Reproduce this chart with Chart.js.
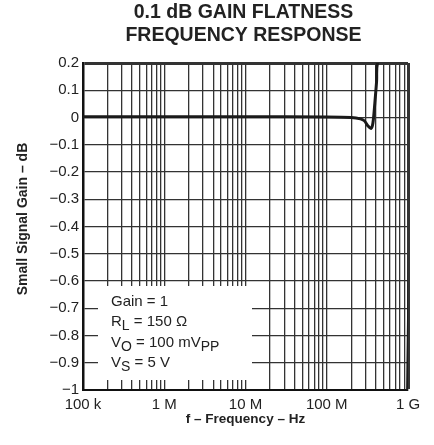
<!DOCTYPE html>
<html>
<head>
<meta charset="utf-8">
<script src="https://cdn.jsdelivr.net/npm/chart.js@4"></script>
<style>
  html, body { margin: 0; padding: 0; background: #fff; }
  #wrap { width: 434px; height: 445px; }
</style>
</head>
<body>
<div id="wrap"><canvas id="gainChart" width="434" height="445"></canvas></div>
<script>
// 0.1 dB gain flatness data
const freqHz = [1e5, 1e6, 1e7, 1e8, 2e8, 2.6e8, 2.9e8, 3.2e8, 3.5e8, 3.7e8, 3.9e8, 4.1e8, 4.3e8, 9.7e8, 9.8e8];
const gainDb = [0.003, 0.003, 0.003, 0.002, 0.0, -0.005, -0.012, -0.03, -0.04, -0.02, 0.05, 0.13, 0.21, 0.4, -1.2];

const xTicks = [];
for (let d = 1e5; d < 1e9; d *= 10) {
    for (let m = 1; m < 10; m++) xTicks.push(m * d);
}
xTicks.push(1e9);
const xLabels = { 1e5: '100 k', 1e6: '1 M', 1e7: '10 M', 1e8: '100 M', 1e9: '1 G' };
const yTicks = [-1, -0.9, -0.8, -0.7, -0.6, -0.5, -0.4, -0.3, -0.2, -0.1, 0, 0.1, 0.2];

const legendLines = [
    [['Gain = 1', 0]],
    [['R', 0], ['L', 1], [' = 150 Ω', 0]],
    [['V', 0], ['O', 1], [' = 100 mV', 0], ['PP', 1]],
    [['V', 0], ['S', 1], [' = 5 V', 0]]
];

const FONT = '"Liberation Sans", Arial, sans-serif';

// titles, axis titles and the condition box
const textPlugin = {
    id: 'texts',
    beforeDatasetsDraw(chart) {
        const ctx = chart.ctx;
        ctx.save();
        // white box over the grid
        ctx.fillStyle = '#fff';
        ctx.fillRect(98, 286, 154, 94);
        ctx.fillStyle = '#222';
        ctx.textBaseline = 'alphabetic';
        ctx.textAlign = 'left';
        let y = 306;
        legendLines.forEach(line => {
            let x = 111;
            line.forEach(([t, sub]) => {
                ctx.font = (sub ? '14px ' : '15px ') + FONT;
                ctx.fillText(t, x, y + (sub ? 4 : 0));
                x += ctx.measureText(t).width;
            });
            y += 20.3;
        });
        ctx.restore();
    },
    afterDraw(chart) {
        const ctx = chart.ctx;
        const a = chart.chartArea;
        const cx = (a.left + a.right) / 2;
        ctx.save();
        ctx.fillStyle = '#222';
        ctx.textAlign = 'center';
        ctx.textBaseline = 'middle';
        ctx.font = 'bold 19.5px ' + FONT;
        ctx.fillText('0.1 dB GAIN FLATNESS', cx - 2, 13);
        ctx.fillText('FREQUENCY RESPONSE', cx - 2, 36);
        ctx.font = 'bold 13.5px ' + FONT;
        ctx.fillText('f – Frequency – Hz', cx, 419);
        ctx.translate(23, 219);
        ctx.rotate(-Math.PI / 2);
        ctx.font = 'bold 14px ' + FONT;
        ctx.fillText('Small Signal Gain – dB', 0, 0);
        ctx.restore();
    }
};

const config = {
    type: 'line',
    data: {
        datasets: [{
            data: freqHz.map((f, i) => ({ x: f, y: gainDb[i] })),
            borderColor: '#1a1a1a',
            borderWidth: 3,
            pointRadius: 0,
            tension: 0.3,
            fill: false
        }]
    },
    options: {
        responsive: false,
        animation: false,
        layout: { padding: { top: 63, right: 26, left: 0, bottom: 0 } },
        plugins: { legend: { display: false }, tooltip: { enabled: false } },
        scales: {
            x: {
                type: 'logarithmic',
                min: 1e5,
                max: 1e9,
                afterBuildTicks: s => { s.ticks = xTicks.map(v => ({ value: v })); },
                afterFit: s => { s.height = 55; },
                ticks: {
                    autoSkip: false,
                    maxRotation: 0,
                    padding: 6,
                    color: '#222',
                    font: { family: FONT, size: 15 },
                    callback: v => xLabels[v] || ''
                },
                grid: {
                    drawTicks: false,
                    color: '#333',
                    lineWidth: c => (c.tick && c.tick.value === 1e9 ? 3 : 1.3)
                },
                border: { color: '#111', width: 2 }
            },
            y: {
                min: -1,
                max: 0.2,
                afterBuildTicks: s => { s.ticks = yTicks.map(v => ({ value: v })); },
                afterFit: s => { s.width = 83; },
                ticks: {
                    padding: 4,
                    color: '#222',
                    font: { family: FONT, size: 15 },
                    callback: v => {
                        const r = Math.round(v * 10) / 10;
                        if (r === 0) return '0';
                        const s = Math.abs(r) === 1 ? '1' : Math.abs(r).toFixed(1);
                        return r < 0 ? '−' + s : s;
                    }
                },
                grid: {
                    drawTicks: false,
                    color: '#333',
                    lineWidth: c => (c.tick && Math.abs(c.tick.value - 0.2) < 1e-9 ? 3 : 1.3)
                },
                border: { color: '#111', width: 2.5 }
            }
        }
    },
    plugins: [textPlugin]
};

const gainChart = new Chart(document.getElementById('gainChart'), config);
</script>
</body>
</html>
